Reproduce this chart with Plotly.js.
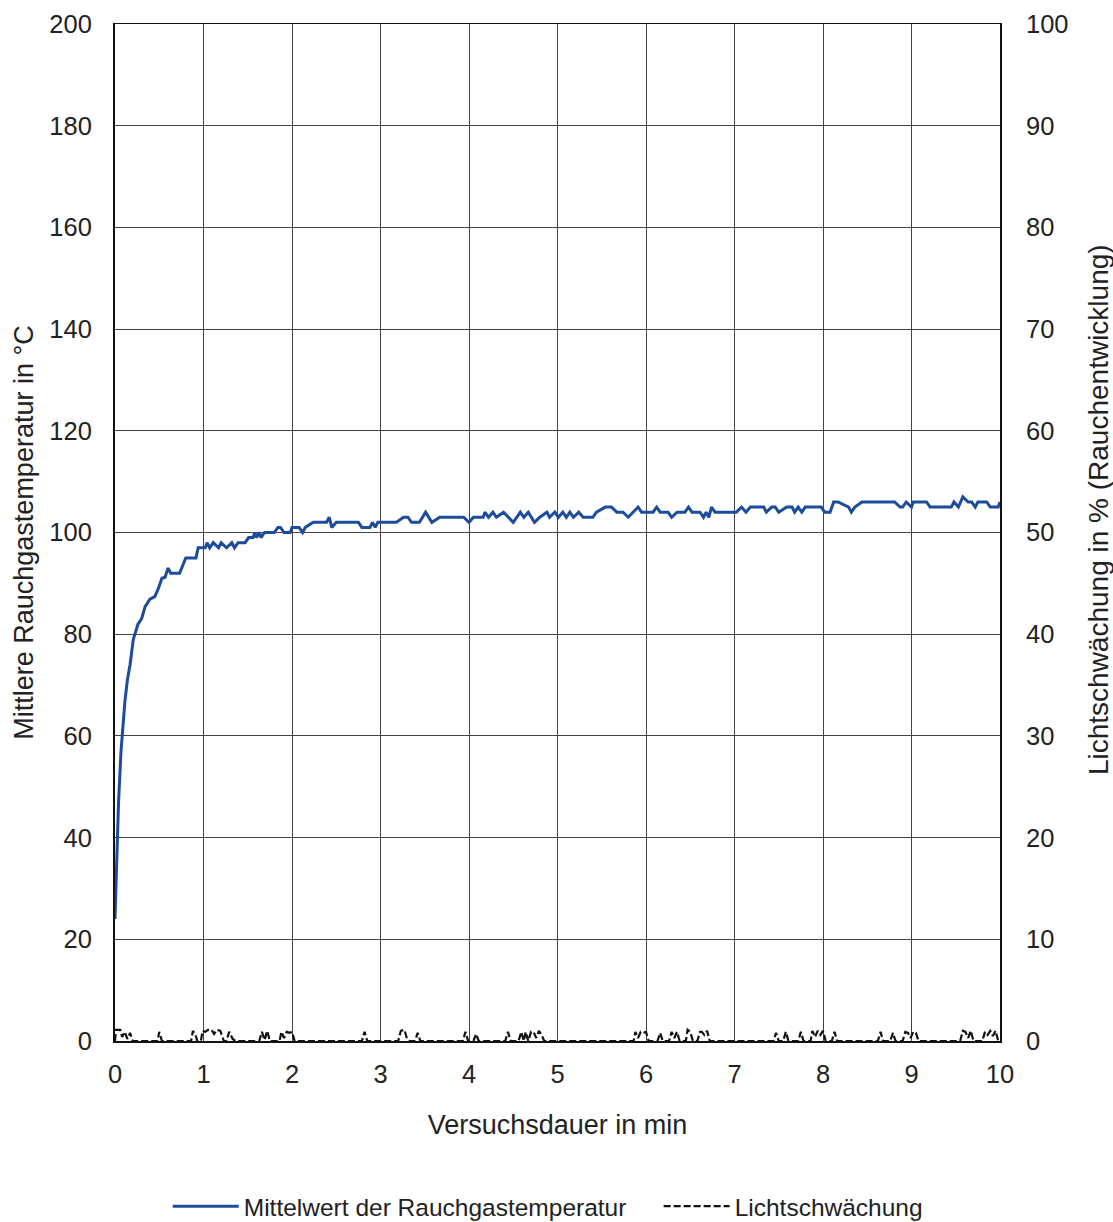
<!DOCTYPE html>
<html>
<head>
<meta charset="utf-8">
<script src="https://cdn.plot.ly/plotly-3.0.1.min.js"></script>
<style>html,body{margin:0;padding:0;background:#fff;}#chart{width:1113px;height:1222px;}</style>
</head>
<body>
<div id="chart"></div>
<script>
// Mittelwert der Rauchgastemperatur (°C) over time (min)
var tempTime = [0,0.02,0.04,0.068,0.09,0.113,0.14,0.17,0.207,0.26,0.3,0.34,0.395,0.45,0.49,0.53,0.565,0.6,0.63,0.73,0.8,0.915,0.94,1.02,1.04,1.07,1.11,1.17,1.2,1.26,1.32,1.35,1.39,1.47,1.51,1.56,1.58,1.6,1.63,1.65,1.69,1.8,1.84,1.87,1.91,1.98,2.0,2.08,2.12,2.15,2.24,2.39,2.42,2.45,2.5,2.75,2.79,2.88,2.91,2.94,2.97,3.18,3.26,3.31,3.35,3.44,3.51,3.58,3.67,3.94,4.0,4.05,4.16,4.18,4.22,4.27,4.31,4.39,4.5,4.58,4.62,4.67,4.74,4.8,4.88,4.91,4.97,5.01,5.06,5.1,5.14,5.18,5.24,5.29,5.4,5.44,5.54,5.61,5.67,5.74,5.8,5.85,5.91,5.95,6.08,6.12,6.16,6.25,6.29,6.35,6.44,6.48,6.52,6.61,6.65,6.68,6.71,6.74,6.78,7.02,7.08,7.13,7.18,7.33,7.36,7.42,7.46,7.5,7.59,7.65,7.68,7.72,7.76,7.8,7.98,8.02,8.08,8.12,8.17,8.29,8.32,8.36,8.44,8.81,8.87,8.9,8.94,9.0,9.02,9.17,9.21,9.45,9.48,9.53,9.58,9.64,9.68,9.72,9.75,9.85,9.89,9.98,10.0];
var tempValue = [24,36,47,57,63,67,71,74,79,82,83,85.4,86.9,87.4,89,91,91.2,93,92,92,95,95,97,97,98,97,98,97,98,97,98,97,98,98,99,99,100,99,100,99,100,100,101,101,100,100,101,101,100,101,102,102,103,101,102,102,101,101,102,101,102,102,103,103,102,102,104,102,103,103,102,103,103,104,103,104,103,104,102,104,103,104,102,103,104,103,104,103,104,103,104,103,104,103,103,104,105,105,104,104,103,104,105,104,104,105,104,104,103,104,104,105,104,104,103,104,103,105,104,104,105,104,105,105,104,105,105,104,105,105,104,105,104,105,105,104,104,106,106,105,104,105,106,106,105,105,106,105,106,106,105,105,106,105,107,106,106,105,106,106,105,105,106];

// Lichtschwächung (%) over time (min)
var lightTime = [0,0.01,0.06,0.08,0.11,0.14,0.17,0.2,0.48,0.5,0.53,0.86,0.88,0.91,0.93,0.97,0.99,1.02,1.05,1.09,1.12,1.15,1.19,1.23,1.26,1.29,1.33,1.36,1.63,1.66,1.69,1.72,1.75,1.86,1.88,1.91,1.94,1.97,2.0,2.03,2.79,2.82,2.85,3.2,3.23,3.27,3.3,3.33,3.39,3.42,3.45,3.93,3.96,3.99,4.05,4.08,4.11,4.41,4.44,4.47,4.56,4.59,4.62,4.64,4.67,4.7,4.73,4.76,4.79,4.82,4.85,5.86,5.88,5.91,5.94,5.97,6.0,6.03,6.13,6.16,6.19,6.26,6.29,6.32,6.35,6.38,6.45,6.47,6.5,6.53,6.58,6.61,6.63,6.66,6.69,6.72,7.44,7.47,7.5,7.55,7.58,7.61,7.72,7.75,7.78,7.86,7.88,7.91,7.94,7.97,8.0,8.03,8.1,8.13,8.16,8.62,8.65,8.68,8.76,8.79,8.82,8.9,8.93,8.96,8.99,9.02,9.05,9.08,9.55,9.58,9.61,9.64,9.67,9.7,9.8,9.83,9.86,9.89,9.92,9.95,9.98,10];
var lightValue = [0,1.1,1.1,0.4,0.9,0.2,0.8,0,0,0.9,0,0,1.0,0.6,0,0,1.0,0.9,1.1,1.1,0.7,1.1,1.0,0,0,0.9,0.2,0,0,0.9,0.1,1.0,0,0,0.9,0.3,0.9,0.8,0.9,0,0,0.9,0,0,1.0,1.1,0.2,0,0,0.8,0,0,0.9,0,0,0.7,0,0,0.9,0,0,0.9,0,0.9,0,0.9,0.9,0.3,1.0,0.6,0,0,0.9,0.3,0.9,0.8,0.9,0,0,0.8,0,0,0.9,0.3,0.9,0,0,1.1,0.9,0,0,0.9,0.9,0.6,1.0,0,0,0.8,0,0,0.9,0,0,0.9,0,0,1.0,0.4,1.0,0.6,1.0,0,0,0.9,0,0,0.9,0,0,0.8,0,0,0.9,0.8,0.3,0.9,0.8,0,0,1.0,0.9,0.3,1.0,0,0,0.9,0.6,1.0,0.5,1.0,0,0];

var xTicks = [0,1,2,3,4,5,6,7,8,9,10];
var leftTicks = [0,20,40,60,80,100,120,140,160,180,200];
var rightTicks = [0,10,20,30,40,50,60,70,80,90,100];

var FONT = '"Liberation Sans", Arial, sans-serif';
var TXT = '#222';
var PAD = '\u00a0\u00a0\u00a0\u00a0';

var traces = [
  {
    x: tempTime, y: tempValue, type: 'scatter', mode: 'lines',
    name: 'Mittelwert der Rauchgastemperatur' + PAD,
    line: {color: '#1d4c9c', width: 3},
    yaxis: 'y'
  },
  {
    x: lightTime, y: lightValue, type: 'scatter', mode: 'lines',
    name: 'Lichtschwächung',
    line: {color: '#111', width: 2.2, dash: '7px,3px'},
    yaxis: 'y2'
  }
];

var layout = {
  width: 1113, height: 1222,
  margin: {l: 115, r: 113, t: 24, b: 181, autoexpand: false},
  paper_bgcolor: '#fff', plot_bgcolor: '#fff',
  font: {family: FONT, size: 25, color: TXT},
  showlegend: true,
  legend: {
    orientation: 'h', x: 0.489, xanchor: 'center', y: -0.1625, yanchor: 'middle',
    font: {family: FONT, size: 24.5, color: TXT},
    itemwidth: 66, itemclick: false, traceorder: 'normal'
  },
  xaxis: {
    range: [0, 10], tickvals: xTicks, ticktext: xTicks.map(String),
    showgrid: true, gridcolor: '#444', gridwidth: 1,
    zeroline: false, showline: true, linecolor: '#111', linewidth: 1.5, mirror: true,
    ticks: '', ticklabelstandoff: 10, automargin: false,
    tickfont: {family: FONT, size: 25.5, color: TXT},
    title: {text: 'Versuchsdauer in min', font: {family: FONT, size: 27, color: TXT}, standoff: 28}
  },
  yaxis: {
    range: [0, 200], tickvals: leftTicks, ticktext: leftTicks.map(String),
    showgrid: true, gridcolor: '#444', gridwidth: 1,
    zeroline: false, showline: true, linecolor: '#111', linewidth: 2, mirror: true,
    ticks: '', ticklabelstandoff: 16, automargin: false,
    tickfont: {family: FONT, size: 25.5, color: TXT},
    title: {text: 'Mittlere Rauchgastemperatur in °C', font: {family: FONT, size: 27, color: TXT}, standoff: 8}
  },
  yaxis2: {
    range: [0, 100], tickvals: rightTicks, ticktext: rightTicks.map(String),
    overlaying: 'y', side: 'right', showgrid: false, zeroline: false,
    showline: false, ticks: '', ticklabelstandoff: 25, automargin: false,
    tickfont: {family: FONT, size: 25.5, color: TXT}
  },
  annotations: [{
    text: 'Lichtschwächung in % (Rauchentwicklung)',
    xref: 'paper', yref: 'paper', x: 1.1107, y: 0.523,
    xanchor: 'center', yanchor: 'middle', textangle: -90, showarrow: false,
    font: {family: FONT, size: 28, color: TXT}
  }]
};

Plotly.newPlot('chart', traces, layout, {displayModeBar: false, staticPlot: true});
</script>
</body>
</html>
